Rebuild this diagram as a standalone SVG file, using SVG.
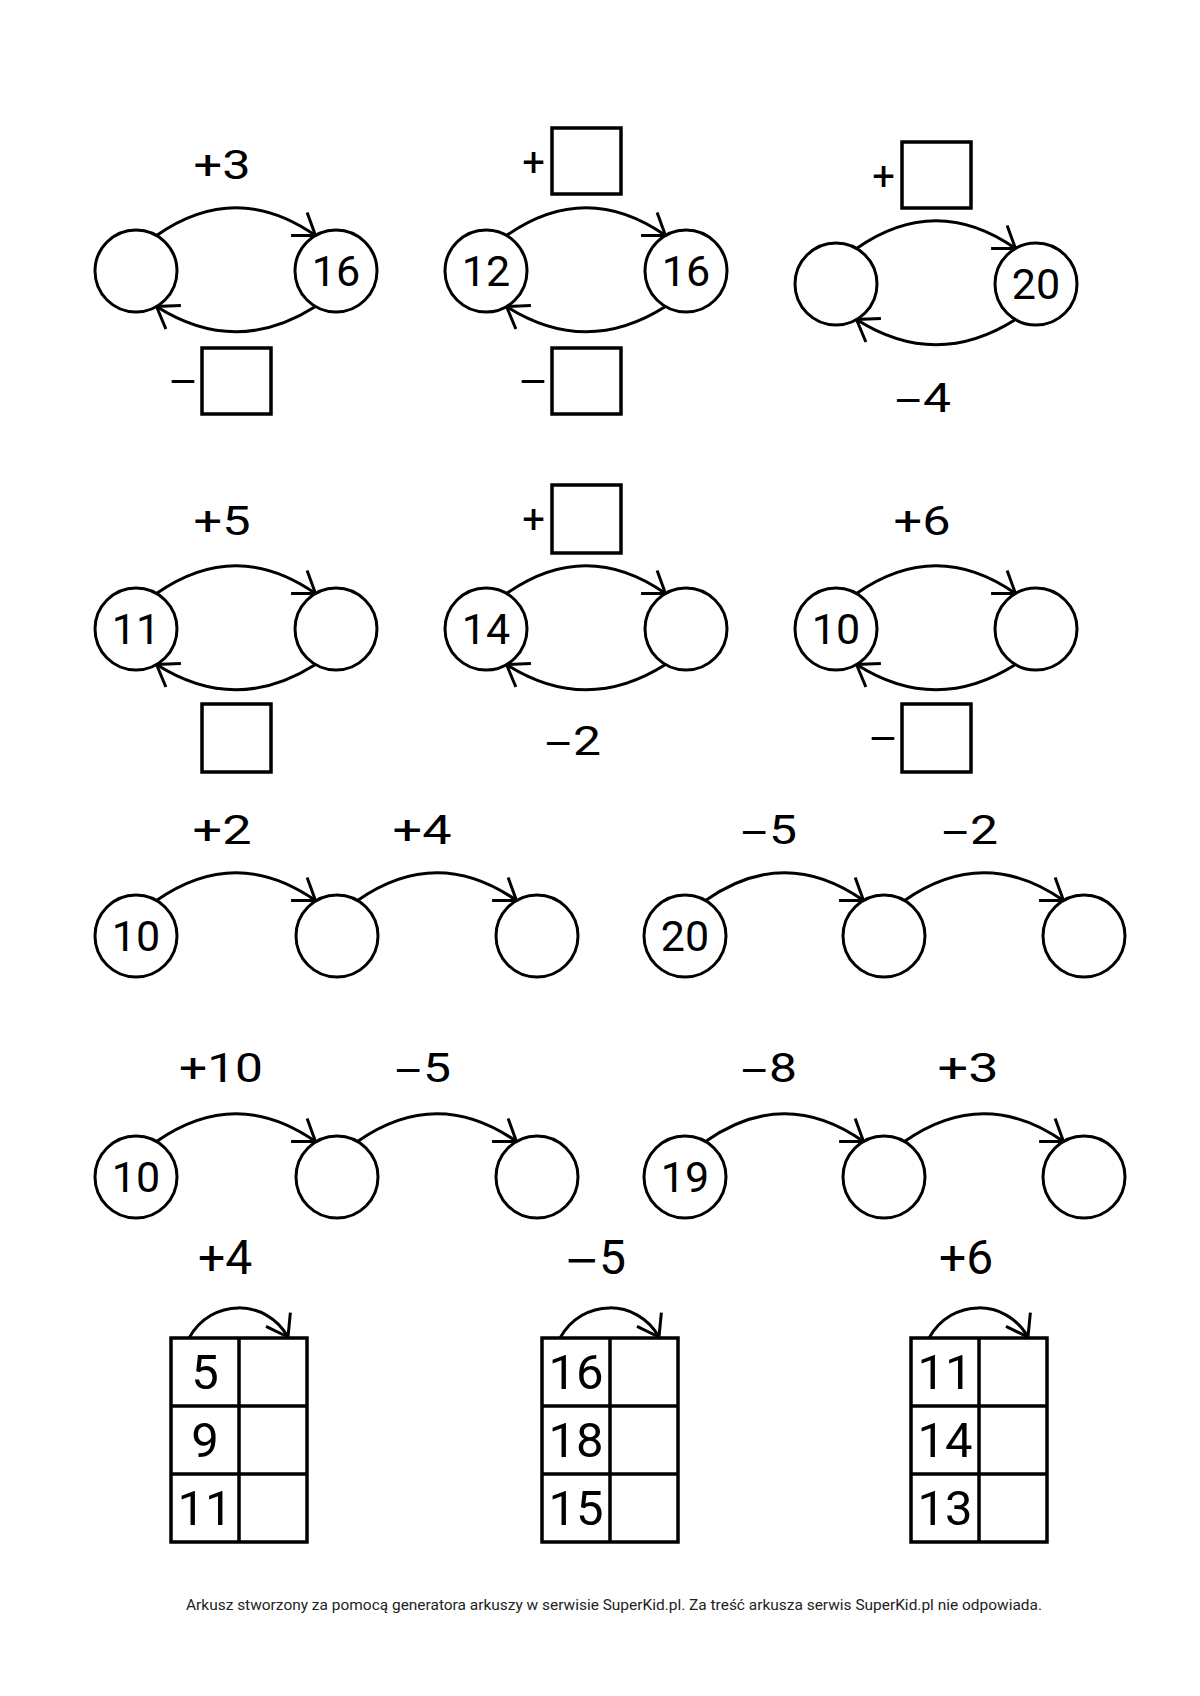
<svg xmlns="http://www.w3.org/2000/svg" width="1200" height="1696" viewBox="0 0 1200 1696">
<style>
.c{fill:#fff;stroke:#000;stroke-width:3}
.a{fill:none;stroke:#000;stroke-width:3}
.b{fill:#fff;stroke:#000;stroke-width:3.5}
.t{stroke:#000;stroke-width:3.5;fill:none}
.n{font-family:Roboto,"Liberation Sans",sans-serif;font-size:43px;text-anchor:middle;fill:#000}
.l{font-family:Roboto,"Liberation Sans",sans-serif;font-size:40px;text-anchor:middle;fill:#000}
.tl{font-family:Roboto,"Liberation Sans",sans-serif;font-size:48px;text-anchor:middle;fill:#000}
.s{font-family:Roboto,"Liberation Sans",sans-serif;font-size:40px;text-anchor:end;fill:#000}
.m{font-family:"DejaVu Sans",sans-serif;font-size:36px}
.ms{font-family:"DejaVu Sans",sans-serif;font-size:36px;text-anchor:end;fill:#000}
.tn{font-family:Roboto,"Liberation Sans",sans-serif;font-size:49px;text-anchor:middle;fill:#000}
.f{font-family:Roboto,"Liberation Sans",sans-serif;font-size:14px;text-anchor:middle;fill:#222}
</style>
<defs>
<marker id="ah" markerUnits="userSpaceOnUse" viewBox="-25 -15 30 30" markerWidth="30" markerHeight="30" refX="0" refY="0" orient="auto" overflow="visible">
<path d="M-20,-14 L0,0 L-20,14" fill="none" stroke="#000" stroke-width="3"/>
</marker>
</defs>
<rect width="1200" height="1696" fill="#fff"/>

<g id="connectors">
<path class="a" marker-end="url(#ah)" d="M156.5,235.5 Q236,180 315.5,235.5"/>
<path class="a" marker-end="url(#ah)" d="M315.5,306.5 Q236,357 156.5,306.5"/>
<path class="a" marker-end="url(#ah)" d="M506.5,235.5 Q586,180 665.5,235.5"/>
<path class="a" marker-end="url(#ah)" d="M665.5,306.5 Q586,357 506.5,306.5"/>
<path class="a" marker-end="url(#ah)" d="M856.5,248.5 Q936,193 1015.5,248.5"/>
<path class="a" marker-end="url(#ah)" d="M1015.5,319.5 Q936,370 856.5,319.5"/>
<path class="a" marker-end="url(#ah)" d="M156.5,593.5 Q236,538 315.5,593.5"/>
<path class="a" marker-end="url(#ah)" d="M315.5,664.5 Q236,715 156.5,664.5"/>
<path class="a" marker-end="url(#ah)" d="M506.5,593.5 Q586,538 665.5,593.5"/>
<path class="a" marker-end="url(#ah)" d="M665.5,664.5 Q586,715 506.5,664.5"/>
<path class="a" marker-end="url(#ah)" d="M856.5,593.5 Q936,538 1015.5,593.5"/>
<path class="a" marker-end="url(#ah)" d="M1015.5,664.5 Q936,715 856.5,664.5"/>
<path class="a" marker-end="url(#ah)" d="M156.5,900.5 Q236,845 315.5,900.5"/>
<path class="a" marker-end="url(#ah)" d="M357.5,900.5 Q437,845 516.5,900.5"/>
<path class="a" marker-end="url(#ah)" d="M705.5,900.5 Q784.5,845 863.5,900.5"/>
<path class="a" marker-end="url(#ah)" d="M904.5,900.5 Q984,845 1063.5,900.5"/>
<path class="a" marker-end="url(#ah)" d="M156.5,1141.5 Q236,1086 315.5,1141.5"/>
<path class="a" marker-end="url(#ah)" d="M357.5,1141.5 Q437,1086 516.5,1141.5"/>
<path class="a" marker-end="url(#ah)" d="M705.5,1141.5 Q784.5,1086 863.5,1141.5"/>
<path class="a" marker-end="url(#ah)" d="M904.5,1141.5 Q984,1086 1063.5,1141.5"/>
<path class="a" marker-end="url(#ah)" d="M189,1338 C211,1298 266,1298 288,1337"/>
<path class="a" marker-end="url(#ah)" d="M560,1338 C582,1298 637,1298 659,1337"/>
<path class="a" marker-end="url(#ah)" d="M929,1338 C951,1298 1006,1298 1028,1337"/>
</g>

<g id="p1">
<text class="l" x="222" y="179" textLength="57" lengthAdjust="spacingAndGlyphs">+3</text>
<circle class="c" cx="136" cy="271" r="41"/>
<circle class="c" cx="336" cy="271" r="41"/>
<text class="n" x="336" y="286">16</text>
<text class="ms" x="198" y="393">−</text>
<rect class="b" x="202" y="348" width="69" height="66"/>
</g>

<g id="p2">
<text class="s" x="545" y="176">+</text>
<rect class="b" x="552" y="128" width="69" height="66"/>
<circle class="c" cx="486" cy="271" r="41"/>
<circle class="c" cx="686" cy="271" r="41"/>
<text class="n" x="486" y="286">12</text>
<text class="n" x="686" y="286">16</text>
<text class="ms" x="548" y="393">−</text>
<rect class="b" x="552" y="348" width="69" height="66"/>
</g>

<g id="p3">
<text class="s" x="895" y="190">+</text>
<rect class="b" x="902" y="142" width="69" height="66"/>
<circle class="c" cx="836" cy="284" r="41"/>
<circle class="c" cx="1036" cy="284" r="41"/>
<text class="n" x="1036" y="299">20</text>
<text class="l" x="922" y="412"><tspan class="m">−</tspan><tspan textLength="28" lengthAdjust="spacingAndGlyphs">4</tspan></text>
</g>

<g id="p4">
<text class="l" x="222" y="535" textLength="57" lengthAdjust="spacingAndGlyphs">+5</text>
<circle class="c" cx="136" cy="629" r="41"/>
<circle class="c" cx="336" cy="629" r="41"/>
<text class="n" x="136" y="644">11</text>
<rect class="b" x="202" y="704" width="69" height="68"/>
</g>

<g id="p5">
<text class="s" x="545" y="533">+</text>
<rect class="b" x="552" y="485" width="69" height="68"/>
<circle class="c" cx="486" cy="629" r="41"/>
<circle class="c" cx="686" cy="629" r="41"/>
<text class="n" x="486" y="644">14</text>
<text class="l" x="572" y="755"><tspan class="m">−</tspan><tspan textLength="28" lengthAdjust="spacingAndGlyphs">2</tspan></text>
</g>

<g id="p6">
<text class="l" x="922" y="535" textLength="57" lengthAdjust="spacingAndGlyphs">+6</text>
<circle class="c" cx="836" cy="629" r="41"/>
<circle class="c" cx="1036" cy="629" r="41"/>
<text class="n" x="836" y="644">10</text>
<text class="ms" x="898" y="750">−</text>
<rect class="b" x="902" y="704" width="69" height="68"/>
</g>

<g id="chain1">
<text class="l" x="222" y="844" textLength="59" lengthAdjust="spacingAndGlyphs">+2</text>
<text class="l" x="422" y="844" textLength="59" lengthAdjust="spacingAndGlyphs">+4</text>
<circle class="c" cx="136" cy="936" r="41"/>
<circle class="c" cx="337" cy="936" r="41"/>
<circle class="c" cx="537" cy="936" r="41"/>
<text class="n" x="136" y="951">10</text>
</g>

<g id="chain2">
<text class="l" x="768" y="844"><tspan class="m">−</tspan><tspan textLength="28" lengthAdjust="spacingAndGlyphs">5</tspan></text>
<text class="l" x="969" y="844"><tspan class="m">−</tspan><tspan textLength="28" lengthAdjust="spacingAndGlyphs">2</tspan></text>
<circle class="c" cx="685" cy="936" r="41"/>
<circle class="c" cx="884" cy="936" r="41"/>
<circle class="c" cx="1084" cy="936" r="41"/>
<text class="n" x="685" y="951">20</text>
</g>

<g id="chain3">
<text class="l" x="221" y="1082" textLength="84" lengthAdjust="spacingAndGlyphs">+10</text>
<text class="l" x="422" y="1082"><tspan class="m">−</tspan><tspan textLength="28" lengthAdjust="spacingAndGlyphs">5</tspan></text>
<circle class="c" cx="136" cy="1177" r="41"/>
<circle class="c" cx="337" cy="1177" r="41"/>
<circle class="c" cx="537" cy="1177" r="41"/>
<text class="n" x="136" y="1192">10</text>
</g>

<g id="chain4">
<text class="l" x="768" y="1082"><tspan class="m">−</tspan><tspan textLength="28" lengthAdjust="spacingAndGlyphs">8</tspan></text>
<text class="l" x="968" y="1082" textLength="61" lengthAdjust="spacingAndGlyphs">+3</text>
<circle class="c" cx="685" cy="1177" r="41"/>
<circle class="c" cx="884" cy="1177" r="41"/>
<circle class="c" cx="1084" cy="1177" r="41"/>
<text class="n" x="685" y="1192">19</text>
</g>

<g id="table1">
<text class="tl" x="225" y="1274">+4</text>
<rect class="t" x="171" y="1338" width="136" height="204"/>
<path class="t" d="M239,1338 V1542 M171,1406 H307 M171,1474 H307"/>
<text class="tn" x="205" y="1389">5</text>
<text class="tn" x="205" y="1457">9</text>
<text class="tn" x="205" y="1525">11</text>
</g>

<g id="table2">
<text class="tl" x="595" y="1274"><tspan class="m" style="font-size:42px">−</tspan>5</text>
<rect class="t" x="542" y="1338" width="136" height="204"/>
<path class="t" d="M610,1338 V1542 M542,1406 H678 M542,1474 H678"/>
<text class="tn" x="576" y="1389">16</text>
<text class="tn" x="576" y="1457">18</text>
<text class="tn" x="576" y="1525">15</text>
</g>

<g id="table3">
<text class="tl" x="966" y="1274">+6</text>
<rect class="t" x="911" y="1338" width="136" height="204"/>
<path class="t" d="M979,1338 V1542 M911,1406 H1047 M911,1474 H1047"/>
<text class="tn" x="945" y="1389">11</text>
<text class="tn" x="945" y="1457">14</text>
<text class="tn" x="945" y="1525">13</text>
</g>

<text class="f" x="614" y="1610" textLength="856" lengthAdjust="spacingAndGlyphs">Arkusz stworzony za pomocą generatora arkuszy w serwisie SuperKid.pl. Za treść arkusza serwis SuperKid.pl nie odpowiada.</text>
</svg>
